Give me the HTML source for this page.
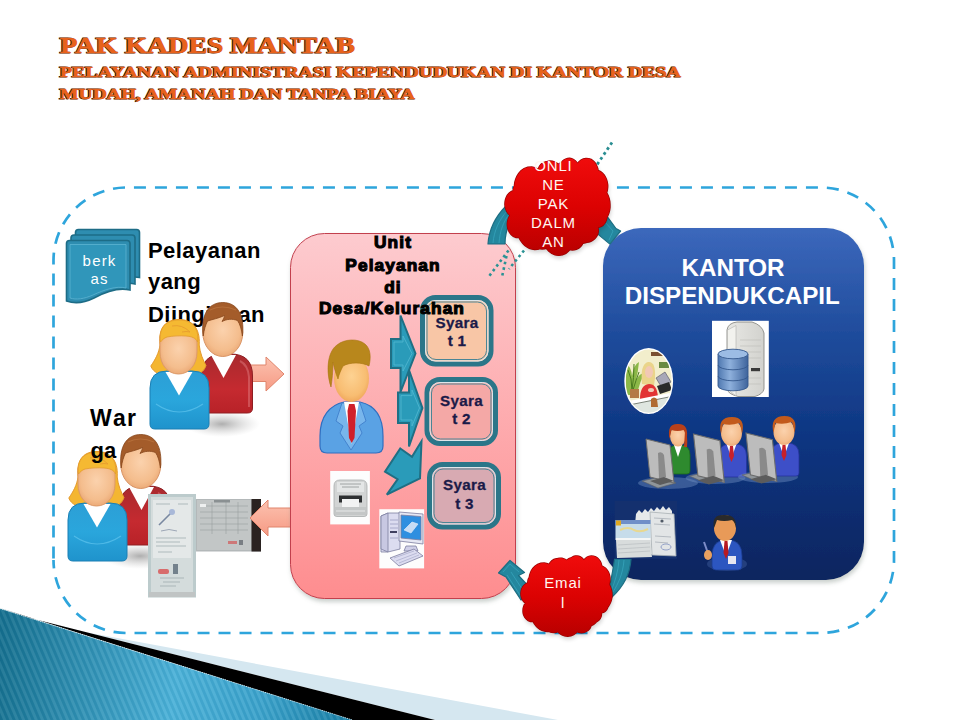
<!DOCTYPE html>
<html><head><meta charset="utf-8">
<style>
html,body{margin:0;padding:0;background:#fff;}
body{width:960px;height:720px;overflow:hidden;position:relative;font-family:"Liberation Sans",sans-serif;}
svg{position:absolute;left:0;top:0;}
</style></head>
<body>
<svg width="960" height="720" viewBox="0 0 960 720">
<defs>
  <linearGradient id="tealG" gradientUnits="userSpaceOnUse" x1="0" y1="650" x2="352" y2="700">
    <stop offset="0" stop-color="#15708f"/>
    <stop offset="0.5" stop-color="#4ab1d8"/>
    <stop offset="0.75" stop-color="#3aa2cb"/>
    <stop offset="1" stop-color="#1a80a6"/>
  </linearGradient>
  <pattern id="stripes" width="5.8" height="6" patternUnits="userSpaceOnUse" patternTransform="rotate(-23)">
    <rect width="2.9" height="6" fill="#ffffff" fill-opacity="0.08"/>
    <rect x="2.9" width="2.9" height="6" fill="#003050" fill-opacity="0.06"/>
  </pattern>
  <linearGradient id="pinkG" x1="0" y1="0" x2="0" y2="1">
    <stop offset="0" stop-color="#fdcbcf"/>
    <stop offset="1" stop-color="#fe8d8f"/>
  </linearGradient>
  <linearGradient id="blueG" x1="0" y1="0" x2="0" y2="1">
    <stop offset="0" stop-color="#3c68bc"/>
    <stop offset="0.3" stop-color="#1f4c9c"/>
    <stop offset="0.6" stop-color="#0d3581"/>
    <stop offset="1" stop-color="#07255f"/>
  </linearGradient>
  <linearGradient id="cloudG1" gradientUnits="userSpaceOnUse" x1="0" y1="158" x2="0" y2="255">
    <stop offset="0" stop-color="#f00c0c"/>
    <stop offset="0.5" stop-color="#dc0202"/>
    <stop offset="1" stop-color="#b80000"/>
  </linearGradient>
  <linearGradient id="cloudG2" gradientUnits="userSpaceOnUse" x1="0" y1="556" x2="0" y2="636">
    <stop offset="0" stop-color="#f00c0c"/>
    <stop offset="0.5" stop-color="#dc0202"/>
    <stop offset="1" stop-color="#b80000"/>
  </linearGradient>
  <filter id="dshadow" x="-10%" y="-10%" width="120%" height="120%"><feGaussianBlur in="SourceAlpha" stdDeviation="2.2"/><feOffset dx="1" dy="3" result="b"/><feFlood flood-color="#6a7a70" flood-opacity="0.35"/><feComposite in2="b" operator="in"/><feMerge><feMergeNode/><feMergeNode in="SourceGraphic"/></feMerge></filter>
  <filter id="blur2" x="-20%" y="-20%" width="140%" height="140%"><feGaussianBlur stdDeviation="2"/></filter>
  <linearGradient id="arrowPink" x1="0" y1="0" x2="0" y2="1">
    <stop offset="0" stop-color="#fcc2b0"/>
    <stop offset="1" stop-color="#f69a84"/>
  </linearGradient>
  <radialGradient id="skinG" cx="0.5" cy="0.45" r="0.6">
    <stop offset="0" stop-color="#fbd2ad"/>
    <stop offset="0.7" stop-color="#f4bd8d"/>
    <stop offset="1" stop-color="#e9a470"/>
  </radialGradient>
  <radialGradient id="skinO" cx="0.5" cy="0.45" r="0.6">
    <stop offset="0" stop-color="#fdd292"/>
    <stop offset="0.7" stop-color="#f8bd72"/>
    <stop offset="1" stop-color="#eea255"/>
  </radialGradient>
  <linearGradient id="wblue" x1="0" y1="0" x2="0" y2="1">
    <stop offset="0" stop-color="#2c9fd6"/>
    <stop offset="0.5" stop-color="#2aa6dc"/>
    <stop offset="1" stop-color="#1f93cc"/>
  </linearGradient>
  <linearGradient id="mred" x1="0" y1="0" x2="0" y2="1">
    <stop offset="0" stop-color="#a82a2e"/>
    <stop offset="0.6" stop-color="#c52a30"/>
    <stop offset="1" stop-color="#b82228"/>
  </linearGradient>
  <radialGradient id="shadowG" cx="0.5" cy="0.5" r="0.5">
    <stop offset="0" stop-color="#9a9a9a" stop-opacity="0.8"/>
    <stop offset="1" stop-color="#c8c8c8" stop-opacity="0"/>
  </radialGradient>
  <g id="couple">
    <ellipse cx="222" cy="424" rx="38" ry="13" fill="url(#shadowG)"/>
    <!-- man -->
    <path d="M201.5,376 q0,-22 22,-22 h7 q22,0 22,22 v32 q0,5 -5,5 h-41 q-5,0 -5,-5 z" fill="url(#mred)" stroke="#8e1e22" stroke-width="1"/>
    <path d="M240,361 q8,4 9,16 v30" fill="none" stroke="#e07a7e" stroke-width="2" opacity="0.5"/>
    <path d="M211,355 h25 l-12.5,23 z" fill="#ffffff"/>
    <ellipse cx="222.8" cy="332.5" rx="20" ry="24" fill="url(#skinG)" stroke="#d99465" stroke-width="1"/>
    <path d="M203.2,336 C200.5,314 209,302.5 222.8,302.5 C236.5,302.5 245,314 242.4,336 C241.5,329 240,324 237.5,320.5 C232,318.5 227,319 222,321.5 C223.5,319 224.5,317 224.5,315.5 C218,318.5 212,319.5 207.5,321 C205.5,325 204,330 203.2,336 Z" fill="#a45c2a" stroke="#86461c" stroke-width="0.8"/>
    <path d="M210,310 q12,-6 26,0" fill="none" stroke="#c07a44" stroke-width="1.2" opacity="0.6"/>
    <!-- woman -->
    <path d="M160,345 C158,326 167,319.5 179,319.5 C191,319.5 200.5,327 199.2,345 C200,353 203,360 206,365.5 C204,372 198,375.5 193,374.5 L166,374.5 C160,375.5 153,372 150.8,366 C155,360 159,353 160,345 Z" fill="#f4b631" stroke="#e59a2e" stroke-width="1"/>
    <path d="M150,388 q0,-17 17,-17 h25 q17,0 17,17 v36 q0,5 -5,5 h-49 q-5,0 -5,-5 z" fill="url(#wblue)" stroke="#1a7fb4" stroke-width="1"/>
    <path d="M156,404 q23,16 47,0" fill="none" stroke="#60c4ee" stroke-width="1.2" opacity="0.7"/>
    <path d="M165.5,372 h27 l-13.5,23.5 z" fill="#ffffff"/>
    <path d="M160,338 C160,331 166,328 178.5,328 C191,328 197,331 197,338 V352 C197,365 189,374 178.5,374 C168,374 160,365 160,352 Z" fill="url(#skinG)" stroke="#dd9a68" stroke-width="1"/>
    <path d="M160.5,342 C158.5,327 167,320 179,320 C191,320 199.5,327 197.5,342 C196,338 192,336.5 186,336 C180,335.5 172,336 167,337 C164,338 162,340 160.5,342 Z" fill="#f5b932" stroke="#e39c2c" stroke-width="0.8"/>
    <path d="M172,326 q10,-2 18,6 q-4,-1 -8,0" fill="none" stroke="#e59a2e" stroke-width="1" opacity="0.8"/>
  </g>
  <g id="pinkArrowR">
    <path d="M0,8 h18 v-8 l18,17 l-18,17 v-8 h-18 z"/>
  </g>
</defs>

<!-- bottom-left decoration -->
<polygon points="85,632 558,720 435,720 30,618" fill="#d5e7f0"/>
<polygon points="30,618 435,720 352,720 0,608" fill="#000"/>
<polygon points="0,608.5 352.5,720 0,720" fill="url(#tealG)"/>
<polygon points="0,608.5 352.5,720 0,720" fill="url(#stripes)"/>
<line x1="0" y1="608.5" x2="352.5" y2="720" stroke="#e8f6fb" stroke-width="0.8" stroke-dasharray="1 1"/>

<!-- dashed container -->
<path d="M53.5,560 A73,73 0 0 0 126.5,633 H821 A73,73 0 0 0 894,560 V260.5 A73,73 0 0 0 821,187.5 H126.5 A73,73 0 0 0 53.5,260.5 Z" fill="none" stroke="#2ea5dc" stroke-width="2.7" stroke-dasharray="12 9" stroke-dashoffset="3.5"/>

<!-- dotted line behind top cloud -->
<line x1="612" y1="142.5" x2="572" y2="201.8" stroke="#2a8e92" stroke-width="2.8" stroke-dasharray="2.8 3.1"/>

<!-- Title -->
<g font-family="Liberation Serif" font-weight="bold">
  <g fill="#3a1a05" stroke="#3a1a05" stroke-width="1" transform="translate(-0.9,0.2)">
    <text x="60" y="52.6" font-size="23" textLength="295" lengthAdjust="spacingAndGlyphs">PAK KADES MANTAB</text>
    <text x="60" y="76.5" font-size="14.5" textLength="621" lengthAdjust="spacingAndGlyphs">PELAYANAN ADMINISTRASI KEPENDUDUKAN DI KANTOR DESA</text>
    <text x="60" y="98.7" font-size="14.5" textLength="355" lengthAdjust="spacingAndGlyphs">MUDAH, AMANAH DAN TANPA BIAYA</text>
  </g>
  <g fill="#e8621c" stroke="#e8621c" stroke-width="0.7">
    <text x="60" y="52.6" font-size="23" textLength="295" lengthAdjust="spacingAndGlyphs">PAK KADES MANTAB</text>
    <text x="60" y="76.5" font-size="14.5" textLength="621" lengthAdjust="spacingAndGlyphs">PELAYANAN ADMINISTRASI KEPENDUDUKAN DI KANTOR DESA</text>
    <text x="60" y="98.7" font-size="14.5" textLength="355" lengthAdjust="spacingAndGlyphs">MUDAH, AMANAH DAN TANPA BIAYA</text>
  </g>
</g>

<!-- berkas icon -->
<g stroke="#1d6c86" stroke-width="1.6" fill="#2e8db0">
  <path d="M75.5,232.5 q0,-3 3,-3 h58 q3,0 3,3 v45 C132,276 125,278 118,281 L75.5,281 Z"/>
  <path d="M71,238 q0,-3 3,-3 h58 q3,0 3,3 v46 C127,282 120,284 113,287 L71,287 Z"/>
  <path d="M66.5,243.5 q0,-3 3,-3 h57.5 q3,0 3,3 v46.5 C118,287 105,292 94,298 C84,303 75,304 66.5,301 Z"/>
</g>
<path d="M70,244.5 h56 v43.5 C116,285.5 104,290 93,295 C84,299 76,300 70,298 Z" fill="#3096ba" stroke="#5db4d2" stroke-width="0.8"/>
<g font-family="Liberation Sans" font-size="15" fill="#ffffff" text-anchor="middle" letter-spacing="1.2">
  <text x="99.6" y="265.6">berk</text>
  <text x="99.6" y="284.4">as</text>
</g>

<!-- Pelayanan yang Diinginkan -->
<g font-family="Liberation Sans" font-weight="bold" font-size="22" fill="#000">
  <text x="148" y="258.4" letter-spacing="0.45">Pelayanan</text>
  <text x="148" y="289.3" letter-spacing="0.45">yang</text>
  <text x="148" y="321.7" letter-spacing="0.45">Diinginkan</text>
</g>

<!-- pink arrow right -->
<path d="M248,365 h18 v-8 l18,17 l-18,17 v-9.5 h-18 z" fill="url(#arrowPink)" stroke="#e0856c" stroke-width="1"/>
<!-- couple 1 -->
<use href="#couple"/>

<!-- couple 2 -->
<use href="#couple" transform="translate(-82,132)"/>
<g font-family="Liberation Sans" font-weight="bold" font-size="22" fill="#000">
  <text x="90" y="425.7" font-size="23">W<tspan dx="2.2">a</tspan><tspan dx="1.2">r</tspan></text>
  <text x="90.5" y="457.5">ga</text>
</g>

<!-- documents -->
<rect x="148" y="494" width="48" height="103.5" fill="#bccbcc"/>
<rect x="151" y="497" width="42" height="97" fill="#d4dcdc"/>
<rect x="153" y="500" width="38" height="58" fill="#e4e8e8"/>
<g stroke="#9aa6aa" stroke-width="0.7">
  <path d="M156,504 H170 M178,504 H188 M156,538 H186 M156,542 H180 M156,546 H186 M158,552 H172 M160,578 H184 M163,582 H180 M160,586 H176"/>
</g>
<path d="M159,525 l12,-12" stroke="#7888a0" stroke-width="1.6"/>
<circle cx="172" cy="512" r="3" fill="#a8b8d8"/>
<path d="M161,531 q8,-3 16,0" stroke="#8a96a8" stroke-width="0.8" fill="none"/>
<rect x="158" y="569" width="11" height="5" rx="2" fill="#d85050" opacity="0.8"/>
<rect x="173" y="564" width="5" height="10" fill="#4a5a6a" opacity="0.7"/>
<rect x="149" y="592" width="46" height="5" fill="#c0c4c4"/>
<rect x="196" y="499" width="65" height="52.5" fill="#b3b8b9"/>
<rect x="197" y="500" width="54" height="50" fill="#c2c6c6"/>
<g stroke="#989ea0" stroke-width="0.6">
  <path d="M200,506 H248 M200,512 H248 M200,518 H248 M200,524 H248 M200,530 H248 M212,502 V534 M226,502 V534 M238,502 V534"/>
</g>
<rect x="214" y="500" width="16" height="2.5" fill="#8a9092"/>
<rect x="200" y="504" width="6" height="3" fill="#eef0f0"/>
<rect x="228" y="541" width="9" height="3" fill="#d06464" opacity="0.8"/>
<rect x="239" y="540" width="4" height="5" fill="#5a6066" opacity="0.7"/>
<rect x="251.5" y="499" width="9.5" height="52.5" fill="#2a2220"/>
<!-- pink arrow left -->
<path d="M291,508 h-23 v-8 l-18,18 l18,18 v-9 h23 z" fill="url(#arrowPink)" stroke="#e0856c" stroke-width="1"/>

<!-- PINK BOX -->
<rect x="290.5" y="233.5" width="225" height="365" rx="34" ry="34" fill="url(#pinkG)" stroke="#c2404e" stroke-width="1" filter="url(#dshadow)"/>

<!-- teal chevron arrows -->
<g fill="#2a9bb9" stroke="#1f6f84" stroke-width="2" stroke-linejoin="miter">
  <path d="M391,339 H400.5 V315.5 L415.5,353.5 L400.5,392 V368 H391 Z"/>
  <path d="M398,392.6 H409 V370 L422.4,408 L409,446.5 V423 H398 Z"/>
  <path d="M400.3,448.5 L412,456.7 L421.5,441.3 L420,478.3 L386.8,494.6 L397.6,479.2 L385,471.6 Z"/>
</g>
<g fill="none" stroke="#5ec0d8" stroke-width="0.8" opacity="0.8">
  <path d="M394,342 H403 V336 L412,353.5 L403,371 V365 H394 Z"/>
  <path d="M401,395.6 H412 V390 L419.5,408 L412,426 V420 H401 Z"/>
</g>

<!-- Syarat boxes -->
<g stroke="#2b7689" stroke-width="5">
  <rect x="422.5" y="297.5" width="68.5" height="66.5" rx="13" fill="#f8c6a6"/>
  <rect x="427" y="379.5" width="68.5" height="64" rx="13" fill="#f4a8a6"/>
  <rect x="429.5" y="464.5" width="69" height="62.5" rx="13" fill="#d8aab2"/>
</g>
<g fill="none" stroke="#dfe6ea" stroke-width="1">
  <rect x="425.5" y="300.5" width="62.5" height="60.5" rx="10"/>
  <rect x="430" y="382.5" width="62.5" height="58" rx="10"/>
  <rect x="432.5" y="467.5" width="63" height="56.5" rx="10"/>
</g>
<g fill="none" stroke="#4a8595" stroke-width="1">
  <rect x="427" y="302" width="59.5" height="57.5" rx="9"/>
  <rect x="431.5" y="384" width="59.5" height="55" rx="9"/>
  <rect x="434" y="469" width="60" height="53.5" rx="9"/>
</g>
<g font-family="Liberation Sans" font-weight="bold" font-size="15.2" fill="#1b1a48" stroke="#1b1a48" stroke-width="0.3" text-anchor="middle" letter-spacing="0.3">
  <text x="457" y="327.5">Syara</text><text x="457" y="346">t 1</text>
  <text x="461.5" y="405.5">Syara</text><text x="461.5" y="424.4">t 2</text>
  <text x="464.5" y="490.3">Syara</text><text x="464.5" y="509.3">t 3</text>
</g>

<!-- Unit Pelayanan text -->
<g font-family="Liberation Sans" font-weight="bold" font-size="17.3" fill="#000" stroke="#000" stroke-width="1.15" text-anchor="middle" letter-spacing="1.1">
  <text x="393" y="247.5">Unit</text>
  <text x="393" y="270.8">Pelayanan</text>
  <text x="393" y="292.5">di</text>
  <text x="392" y="314.2">Desa/Kelurahan</text>
</g>

<!-- man in suit -->
<g>
  <path d="M320,436 C320,416 330,405 344,402 H360 C374,405 383,416 383,436 V446 Q383,453 376,453 H327 Q320,453 320,446 Z" fill="#5aa2e4" stroke="#2f6fc0" stroke-width="1.2"/>
  <path d="M342,403 L336,421 L343,426 L340,433 L351,450 L362,433 L359,426 L366,421 L360,403 Z" fill="#78b6ec" stroke="#3f7fcc" stroke-width="0.9"/>
  <path d="M344,402 H359 L351.5,444 Z" fill="#ffffff"/>
  <path d="M349,404 H354.5 L356,411 L354.5,438 L351.7,443 L349,438 L347.5,411 Z" fill="#d0202a"/>
  <ellipse cx="351.5" cy="378.5" rx="17.5" ry="23.5" fill="url(#skinO)"/>
  <path d="M331,387 C326,372 327,352 337,345 C344,339 358,338 365,344 C371,349 371,358 369,366 C362,362 350,362 343,366 C341,370 339,374 338,379 C336,374 334,368 333,362 C333,372 332,380 331,387 Z" fill="#b8871c" stroke="#a87610" stroke-width="0.6"/>
</g>

<!-- printer image -->
<rect x="330.2" y="471" width="39.7" height="53.4" fill="#fdfdfd"/>
<g>
  <path d="M334,486 Q334,480 340,480 H361 Q367,480 367,486 V514 Q367,516.5 364,516.5 H337 Q334,516.5 334,514 Z" fill="#d2d4d4" stroke="#a8acac" stroke-width="0.8"/>
  <path d="M337,482 H364 V492 H337 Z" fill="#e4e6e6"/>
  <path d="M340,484 H361 M342,487 H359" stroke="#8e9292" stroke-width="0.8"/>
  <rect x="339" y="495.5" width="23" height="7" fill="#2e3032"/>
  <rect x="342" y="499" width="17" height="8" fill="#f2f3f3"/>
  <rect x="335" y="507" width="31" height="8" fill="#c4c7c7"/>
  <path d="M336,511 H365" stroke="#e8eaea" stroke-width="1"/>
</g>
<!-- computer image -->
<rect x="379.3" y="509.2" width="44.8" height="59.2" fill="#fdfdfd"/>
<g stroke="#7c7ea0" stroke-width="0.8">
  <path d="M381,516 L388,513 H400 V549 L388,552 H381 Z" fill="#dcdcf0"/>
  <path d="M381,516 L388,513 V552 L381,549 Z" fill="#c8c8e2"/>
  <path d="M390,520 H398 M390,524 H398 M390,528 H398 M390,538 H398" stroke="#9a9cc0"/>
  <rect x="390" y="531" width="7" height="2" fill="#404060" stroke="none"/>
  <path d="M399,512 L423,514 V544 L399,541 Z" fill="#e6e8f4"/>
  <path d="M401,515 L421,516.5 V540 L401,538 Z" fill="#2f8fe0"/>
  <path d="M404,530 L412,522 L418,524 L411,533 Z" fill="#c8dcf4" stroke="#e8f0fa" stroke-width="0.6"/>
  <path d="M406,546 L416,546 L418,551 L404,551 Z" fill="#d0d0e8"/>
  <path d="M390,558 L414,549 L423,556 L399,566 Z" fill="#dcdcf0"/>
  <path d="M394,558 L414,551 M396,561 L417,553 M399,563 L419,555" stroke="#a0a2c4" stroke-width="0.6"/>
</g>

<!-- BLUE BOX -->
<rect x="603" y="228" width="261" height="352" rx="38" ry="38" fill="url(#blueG)" filter="url(#dshadow)"/>
<!-- teal curved arrows -->
<g fill="#24879e" stroke="#1c6d82" stroke-width="1.2" stroke-linejoin="round">
  <path d="M488,244 C489,230 495,217 506,206 L514,214 C509,222 505,232 505,244 Z"/>
  <path d="M607.8,217.4 L616,228.5 L620.6,231 L609.9,244.1 L596,232.6 L600,222 Z"/>
  <path d="M614.6,559 L631,559 C630,575 622,588 612,597 L609,590 C611,580 613,570 614.6,559 Z"/>
  <path d="M498.5,573 L510,560.5 L524.5,572.5 L518.5,575.5 L533,591 L521,600 L506,577 Z"/>
</g>
<g fill="none" stroke="#3fb0c8" stroke-width="0.8" opacity="0.7">
  <path d="M493,243 C494,231 499,220 507,211"/>
  <path d="M499,243 C500,231 503,222 510,213"/>
  <path d="M605,222 L613,231 L609,240"/>
  <path d="M619,560 C618,572 615,582 611,591"/>
  <path d="M624,560 C623,574 618,584 613,592"/>
  <path d="M503,572 L510,564 L519,572 M511,572 L524,592 M507,575 L520,595"/>
</g>
<g font-family="Liberation Sans" font-weight="bold" font-size="24.2" fill="#ffffff" text-anchor="middle">
  <text x="733" y="276.3">KANTOR</text>
  <text x="732.3" y="304.3">DISPENDUKCAPIL</text>
</g>

<!-- server image -->
<rect x="712" y="320.8" width="56.8" height="76.2" fill="#ffffff"/>
<defs>
  <linearGradient id="cylG" x1="0" y1="0" x2="1" y2="0">
    <stop offset="0" stop-color="#4f78b0"/>
    <stop offset="0.4" stop-color="#8eb0dc"/>
    <stop offset="1" stop-color="#3e649c"/>
  </linearGradient>
  <linearGradient id="towG" x1="0" y1="0" x2="1" y2="0">
    <stop offset="0" stop-color="#e8e8e4"/>
    <stop offset="1" stop-color="#d2d2ce"/>
  </linearGradient>
</defs>
<path d="M727,330 Q728,323 737,322 L752,322 Q762,325 764,333 V389 Q763,394 755,396.5 L738,396.5 Q728,394 727,389 Z" fill="url(#towG)" stroke="#8a8a86" stroke-width="0.9"/>
<path d="M727.5,330 L736,325.5 V396 L727.5,389 Z" fill="#f2f2ee" stroke="#b0b0ac" stroke-width="0.6"/>
<g stroke="#c0c0bc" stroke-width="0.7">
  <path d="M740,340 H761 M740,346 H761 M740,352 H761 M740,358 H761 M740,378 H761 M740,384 H761"/>
</g>
<rect x="751" y="368" width="9" height="3.2" fill="#3a3a3a"/>
<g stroke="#34588c" stroke-width="0.9">
  <path d="M718,354 V386 A15,4.8 0 0 0 748,386 V354" fill="url(#cylG)"/>
  <ellipse cx="733" cy="354" rx="15" ry="4.8" fill="#9cbce4"/>
  <path d="M718,365 A15,4.8 0 0 0 748,365 M718,376 A15,4.8 0 0 0 748,376" fill="none"/>
</g>

<!-- woman at desk oval -->
<clipPath id="ovalClip"><ellipse cx="648.7" cy="381" rx="23" ry="31.6"/></clipPath>
<ellipse cx="648.7" cy="381" rx="24.4" ry="33" fill="#ffffff"/>
<g clip-path="url(#ovalClip)">
  <rect x="624" y="348" width="50" height="66" fill="#f2eecc"/>
  <rect x="651" y="352" width="14" height="4" fill="#7a5030"/>
  <rect x="659" y="362" width="10" height="6" fill="#6a8a40"/>
  <path d="M626,364 q5,2 6,12 q2,-12 7,-14 q-1,10 -3,18 q5,-8 8,-6 q-4,8 -6,16 l-4,5 h-8 z" fill="#8cb848"/>
  <path d="M628,370 q4,8 4,20 M634,364 q0,14 -2,26 M639,372 q-3,8 -6,18" stroke="#4a7a20" stroke-width="1" fill="none"/>
  <path d="M630,389 h9 v9 h-9 z" fill="#b47a44"/>
  <path d="M642,384 q-2,-20 6,-22 q8,-1 7,16 l-1,8 z" fill="#ead48a"/>
  <ellipse cx="649" cy="372" rx="4" ry="6" fill="#f2c8b4"/>
  <path d="M640,399 q0,-14 9,-15 q8,0 9,13 l1,4 h-19 z" fill="#e23434"/>
  <ellipse cx="651" cy="390" rx="3" ry="2" fill="#f2c8b4"/>
  <path d="M656,378 l9,-6 l6,10 l-9,6 z" fill="#a8a8b8" stroke="#505060" stroke-width="0.6"/>
  <path d="M657,386 l12,-4 l3,8 l-12,4 z" fill="#2a2a2a"/>
  <path d="M624,402 l50,-10 v4 l-50,10 z" fill="#ffffff"/>
  <path d="M624,406 l50,-10 v20 h-50 z" fill="#dfe6e0"/>
  <path d="M624,406 l50,-10" stroke="#606860" stroke-width="0.8"/>
  <path d="M651,399 q3,-3 6,0 l1,8 h-7 z" fill="#b06a30"/>
</g>

<!-- people at computers -->
<defs>
  <g id="pcbase">
    <ellipse cx="22" cy="44" rx="30" ry="6" fill="#6f8fc0" opacity="0.45"/>
    <path d="M-4,42 l18,-4 l16,6 l-18,5 z" fill="#8f9599" stroke="#5a6066" stroke-width="0.6"/>
  </g>
  <g id="monitor">
    <path d="M0,0 l24,6 l4,38 l-24,-6 z" fill="#bcbcbc" stroke="#6c6c6c" stroke-width="1"/>
    <path d="M12,14 q4,-2 6,2 l2,22 l-7,2 z" fill="#8a8a8a"/>
    <path d="M4,42 l14,-4 l10,4 l-14,4 z" fill="#5c5c5c"/>
  </g>
</defs>
<g transform="translate(646,439)">
  <use href="#pcbase"/>
  <path d="M22,16 q0,-10 10,-10 h2 q10,0 10,10 v16 q0,3 -3,3 h-16 q-3,0 -3,-3 z" fill="#2e8a2e" stroke="#1d6a1d" stroke-width="0.8"/>
  <path d="M28,6 h8 l-4,12 z" fill="#ffffff"/>
  <ellipse cx="32" cy="-3" rx="8" ry="10.5" fill="url(#skinG)"/>
  <path d="M23.5,0 q-3,-16 9,-15 q11,0 8,16 q-1,-8 -3,-10 q-6,2 -12,0 q-1,4 -2,9 z" fill="#b8401a"/>
  <path d="M39,-8 q3,4 2,16 h-3 z" fill="#b8401a"/>
  <use href="#monitor"/>
</g>
<g transform="translate(693.5,434)">
  <use href="#pcbase"/>
  <path d="M25,22 q0,-12 12,-12 h4 q12,0 12,12 v18 q0,3 -3,3 h-22 q-3,0 -3,-3 z" fill="#3d4fc8" stroke="#26339a" stroke-width="0.8"/>
  <path d="M33,10 h10 l-5,14 z" fill="#ffffff"/>
  <path d="M36.5,12 h3 l1,10 l-2.5,6 l-2.5,-6 z" fill="#c8202a"/>
  <ellipse cx="38" cy="-1" rx="10.5" ry="13" fill="url(#skinG)"/>
  <path d="M27.5,0 q-4,-17 11,-17 q14,0 10,17 q-1,-8 -3,-11 q-8,3 -16,1 q-1,4 -2,10 z" fill="#c25a1c"/>
  <use href="#monitor" transform="scale(1.1)"/>
</g>
<g transform="translate(746,433)">
  <use href="#pcbase"/>
  <path d="M25,22 q0,-12 12,-12 h4 q12,0 12,12 v18 q0,3 -3,3 h-22 q-3,0 -3,-3 z" fill="#3d4fc8" stroke="#26339a" stroke-width="0.8"/>
  <path d="M33,10 h10 l-5,14 z" fill="#ffffff"/>
  <path d="M36.5,12 h3 l1,10 l-2.5,6 l-2.5,-6 z" fill="#c8202a"/>
  <ellipse cx="38" cy="-1" rx="10.5" ry="13" fill="url(#skinG)"/>
  <path d="M27.5,0 q-4,-17 11,-17 q14,0 10,17 q-1,-8 -3,-11 q-8,3 -16,1 q-1,4 -2,10 z" fill="#c25a1c"/>
  <use href="#monitor" transform="scale(1.1)"/>
</g>

<!-- documents image (blue box) -->
<rect x="614.7" y="501" width="62.3" height="57.8" fill="#14306e"/>
<g>
  <path d="M636,514 l3,-4 l3,3 l3,-4 l3,3 l3,-4 l3,3 l3,-4 l3,3 l3,-4 l3,4 l3,-3 l3,4 v42 l-40,2 z" fill="#e6e9ea"/>
  <path d="M650,512 L674,514 L676,556 L652,555 Z" fill="#e2e5e6" stroke="#a8b0b4" stroke-width="0.8"/>
  <path d="M654,518 L671,519 M654,524 L670,525 M655,536 L671,537 M655,542 L668,543" stroke="#a0a8b0" stroke-width="0.7"/>
  <circle cx="662" cy="521" r="1.6" fill="#505a66"/>
  <ellipse cx="666" cy="547" rx="5" ry="3" fill="none" stroke="#8090c0" stroke-width="0.8"/>
  <path d="M616,540 L650,538 L652,557 L617,558 Z" fill="#d8dcdc"/>
  <path d="M618,545 L650,543 M618,549 L650,547 M618,553 L650,551" stroke="#bcc2c4" stroke-width="0.8"/>
  <rect x="615.5" y="520" width="35" height="18" fill="#c6dcea"/>
  <rect x="615.5" y="520" width="35" height="4" fill="#6f8fc8"/>
  <rect x="616" y="520.5" width="5" height="5" fill="#e0a820"/>
  <path d="M620,530 q8,-4 14,0 q6,3 14,-1" stroke="#e8d890" stroke-width="2" fill="none"/>
  <rect x="615.5" y="538" width="35" height="2" fill="#f4f6f6"/>
</g>

<!-- man with pen -->
<g>
  <ellipse cx="727" cy="564" rx="20" ry="7" fill="#4f6fb0" opacity="0.35"/>
  <path d="M712,556 q0,-16 14,-16 h2 q14,0 14,16 v10 q0,4 -4,4 h-22 q-4,0 -4,-4 z" fill="#2c56c0" stroke="#1c3c90" stroke-width="0.8"/>
  <path d="M720,540 h12 l-6,16 z" fill="#ffffff"/>
  <path d="M724.5,541 h3 l1,12 l-2.5,6 l-2.5,-6 z" fill="#b81a22"/>
  <rect x="728" y="556" width="8" height="8" fill="#e6e6f0"/>
  <ellipse cx="725" cy="528" rx="11" ry="13" fill="#e89a58"/>
  <path d="M714,528 q-3,-14 11,-13 q12,0 11,13 q-1,-6 -4,-8 q-8,2 -15,0 q-1,3 -3,8 z" fill="#2a2a2a"/>
  <path d="M704,542 l5,14" stroke="#7c8cc8" stroke-width="2"/>
  <ellipse cx="708" cy="555" rx="4" ry="5" fill="#e8a060"/>
</g>

<!-- clouds -->
<path d="M514.5,190.3 L514.3,187.5 L514.5,184.8 L514.9,182.0 L515.7,179.2 L516.9,176.4 L518.7,173.5 L521.0,170.8 L524.1,168.6 L527.8,167.2 L531.8,166.9 L535.7,167.8 L539.0,169.7 L539.8,168.0 L540.9,166.4 L542.2,164.8 L543.7,163.4 L545.6,162.2 L547.7,161.4 L550.0,161.0 L552.3,161.2 L554.5,161.8 L556.5,162.9 L558.2,164.2 L559.6,165.7 L560.3,164.2 L561.2,162.7 L562.4,161.3 L563.8,160.0 L565.6,159.1 L567.6,158.4 L569.7,158.3 L571.7,158.7 L573.6,159.6 L575.2,160.7 L576.5,162.1 L577.5,163.6 L579.0,161.7 L581.0,160.1 L583.3,158.9 L586.0,158.4 L588.7,158.6 L591.2,159.5 L593.3,161.0 L595.0,162.8 L596.2,164.8 L597.1,166.7 L597.8,168.6 L598.1,170.5 L600.6,171.7 L602.6,173.3 L604.3,175.2 L605.5,177.2 L606.4,179.2 L607.0,181.2 L607.4,183.1 L607.7,185.0 L607.7,186.9 L607.5,188.8 L607.2,190.8 L606.6,192.7 L608.2,195.7 L609.2,198.7 L609.8,201.7 L610.0,204.6 L610.0,207.5 L609.6,210.4 L608.8,213.3 L607.5,216.4 L605.7,219.4 L603.2,222.2 L599.9,224.5 L595.9,225.8 L595.8,228.0 L595.5,230.2 L594.9,232.4 L594.0,234.6 L592.7,236.9 L591.0,239.1 L588.8,241.0 L586.2,242.5 L583.1,243.3 L580.0,243.2 L577.0,242.3 L574.4,240.7 L573.6,243.3 L572.4,246.0 L570.8,248.6 L568.6,251.1 L565.9,253.3 L562.5,254.8 L558.8,255.4 L555.1,254.9 L551.8,253.4 L548.9,251.3 L546.7,248.8 L545.1,246.2 L542.8,247.6 L540.3,248.7 L537.5,249.4 L534.7,249.5 L531.9,249.1 L529.3,248.3 L526.9,247.0 L524.8,245.4 L522.9,243.6 L521.4,241.6 L520.1,239.7 L519.1,237.6 L516.1,237.5 L513.3,236.4 L511.1,234.6 L509.5,232.5 L508.4,230.3 L507.7,228.2 L507.4,226.0 L507.3,224.0 L507.5,221.9 L508.0,219.7 L508.8,217.5 L510.1,215.4 L508.0,213.3 L506.6,211.1 L505.7,208.8 L505.1,206.6 L504.9,204.4 L505.0,202.2 L505.4,200.0 L506.1,197.8 L507.2,195.5 L509.0,193.3 L511.4,191.5 L514.4,190.6 Z M556.8,165.2 A12.0,12.0 0 0 1 574.9,168.2 A12.7,12.7 0 0 1 591.7,178.7 A10.7,10.7 0 0 1 601.0,192.7 A10.8,10.8 0 0 1 603.7,209.6 A10.6,10.6 0 0 1 597.9,227.5 A11.8,11.8 0 0 1 583.3,241.8 A11.3,11.3 0 0 1 566.2,248.1 A11.9,11.9 0 0 1 547.3,247.6 A10.5,10.5 0 0 1 532.1,241.5 A12.6,12.6 0 0 1 518.2,227.8 A9.1,9.1 0 0 1 512.6,212.3 A10.4,10.4 0 0 1 514.0,195.4 A10.8,10.8 0 0 1 522.8,180.3 A11.4,11.4 0 0 1 538.2,169.3 A10.7,10.7 0 0 1 556.8,165.2 Z" fill="#000" opacity="0.18" transform="translate(1,3)" filter="url(#blur2)"/>
<path d="M529.2,582.3 L529.1,580.1 L529.2,577.8 L529.6,575.5 L530.3,573.2 L531.3,570.8 L532.8,568.5 L534.9,566.2 L537.6,564.4 L540.8,563.2 L544.2,563.0 L547.6,563.7 L550.5,565.3 L551.2,563.9 L552.1,562.6 L553.2,561.3 L554.6,560.1 L556.2,559.1 L558.0,558.4 L560.0,558.1 L562.0,558.2 L563.9,558.8 L565.6,559.6 L567.1,560.7 L568.3,562.0 L568.9,560.7 L569.7,559.5 L570.7,558.3 L572.0,557.3 L573.5,556.5 L575.2,556.0 L577.0,555.9 L578.8,556.2 L580.4,556.9 L581.8,557.9 L583.0,559.0 L583.8,560.2 L585.1,558.7 L586.8,557.3 L588.9,556.3 L591.2,555.9 L593.5,556.1 L595.7,556.9 L597.5,558.1 L599.0,559.6 L600.1,561.2 L600.9,562.8 L601.4,564.4 L601.7,566.0 L603.8,567.0 L605.6,568.3 L607.0,569.9 L608.1,571.5 L608.9,573.2 L609.4,574.8 L609.8,576.4 L610.0,578.0 L610.0,579.6 L609.9,581.1 L609.6,582.7 L609.1,584.4 L610.4,586.9 L611.3,589.4 L611.8,591.8 L612.0,594.2 L612.0,596.6 L611.6,599.0 L610.9,601.5 L609.8,604.0 L608.3,606.5 L606.1,608.8 L603.2,610.7 L599.8,611.8 L599.7,613.6 L599.4,615.4 L598.9,617.2 L598.1,619.1 L597.0,621.0 L595.6,622.8 L593.7,624.4 L591.3,625.6 L588.7,626.3 L586.0,626.2 L583.4,625.4 L581.2,624.1 L580.5,626.3 L579.5,628.5 L578.0,630.7 L576.2,632.8 L573.7,634.6 L570.9,635.8 L567.7,636.3 L564.5,635.9 L561.5,634.7 L559.1,632.9 L557.2,630.9 L555.7,628.7 L553.8,629.9 L551.6,630.8 L549.2,631.4 L546.8,631.5 L544.4,631.1 L542.1,630.4 L540.0,629.4 L538.1,628.0 L536.5,626.5 L535.2,624.9 L534.1,623.3 L533.2,621.6 L530.6,621.5 L528.2,620.6 L526.3,619.1 L524.9,617.4 L523.9,615.5 L523.3,613.8 L523.0,612.0 L523.0,610.3 L523.1,608.5 L523.6,606.8 L524.3,604.9 L525.5,603.1 L523.6,601.5 L522.4,599.6 L521.6,597.7 L521.1,595.9 L520.9,594.1 L521.0,592.3 L521.3,590.4 L521.9,588.6 L522.9,586.7 L524.4,584.9 L526.5,583.4 L529.1,582.6 Z M565.8,561.4 A9.0,9.0 0 0 1 581.5,563.9 A11.0,11.0 0 0 1 596.7,573.3 A8.5,8.5 0 0 1 604.0,583.9 A9.7,9.7 0 0 1 606.3,599.7 A8.2,8.2 0 0 1 601.5,612.9 A9.4,9.4 0 0 1 591.5,623.0 A9.8,9.8 0 0 1 574.8,629.8 A9.5,9.5 0 0 1 560.0,630.1 A10.3,10.3 0 0 1 543.2,624.1 A7.9,7.9 0 0 1 532.7,614.6 A8.2,8.2 0 0 1 526.9,601.0 A9.0,9.0 0 0 1 528.3,585.6 A10.5,10.5 0 0 1 537.6,572.0 A7.4,7.4 0 0 1 548.8,565.0 A10.6,10.6 0 0 1 565.8,561.4 Z" fill="#000" opacity="0.18" transform="translate(1,3)" filter="url(#blur2)"/>
<path d="M514.5,190.3 L514.3,187.5 L514.5,184.8 L514.9,182.0 L515.7,179.2 L516.9,176.4 L518.7,173.5 L521.0,170.8 L524.1,168.6 L527.8,167.2 L531.8,166.9 L535.7,167.8 L539.0,169.7 L539.8,168.0 L540.9,166.4 L542.2,164.8 L543.7,163.4 L545.6,162.2 L547.7,161.4 L550.0,161.0 L552.3,161.2 L554.5,161.8 L556.5,162.9 L558.2,164.2 L559.6,165.7 L560.3,164.2 L561.2,162.7 L562.4,161.3 L563.8,160.0 L565.6,159.1 L567.6,158.4 L569.7,158.3 L571.7,158.7 L573.6,159.6 L575.2,160.7 L576.5,162.1 L577.5,163.6 L579.0,161.7 L581.0,160.1 L583.3,158.9 L586.0,158.4 L588.7,158.6 L591.2,159.5 L593.3,161.0 L595.0,162.8 L596.2,164.8 L597.1,166.7 L597.8,168.6 L598.1,170.5 L600.6,171.7 L602.6,173.3 L604.3,175.2 L605.5,177.2 L606.4,179.2 L607.0,181.2 L607.4,183.1 L607.7,185.0 L607.7,186.9 L607.5,188.8 L607.2,190.8 L606.6,192.7 L608.2,195.7 L609.2,198.7 L609.8,201.7 L610.0,204.6 L610.0,207.5 L609.6,210.4 L608.8,213.3 L607.5,216.4 L605.7,219.4 L603.2,222.2 L599.9,224.5 L595.9,225.8 L595.8,228.0 L595.5,230.2 L594.9,232.4 L594.0,234.6 L592.7,236.9 L591.0,239.1 L588.8,241.0 L586.2,242.5 L583.1,243.3 L580.0,243.2 L577.0,242.3 L574.4,240.7 L573.6,243.3 L572.4,246.0 L570.8,248.6 L568.6,251.1 L565.9,253.3 L562.5,254.8 L558.8,255.4 L555.1,254.9 L551.8,253.4 L548.9,251.3 L546.7,248.8 L545.1,246.2 L542.8,247.6 L540.3,248.7 L537.5,249.4 L534.7,249.5 L531.9,249.1 L529.3,248.3 L526.9,247.0 L524.8,245.4 L522.9,243.6 L521.4,241.6 L520.1,239.7 L519.1,237.6 L516.1,237.5 L513.3,236.4 L511.1,234.6 L509.5,232.5 L508.4,230.3 L507.7,228.2 L507.4,226.0 L507.3,224.0 L507.5,221.9 L508.0,219.7 L508.8,217.5 L510.1,215.4 L508.0,213.3 L506.6,211.1 L505.7,208.8 L505.1,206.6 L504.9,204.4 L505.0,202.2 L505.4,200.0 L506.1,197.8 L507.2,195.5 L509.0,193.3 L511.4,191.5 L514.4,190.6 Z M556.8,165.2 A12.0,12.0 0 0 1 574.9,168.2 A12.7,12.7 0 0 1 591.7,178.7 A10.7,10.7 0 0 1 601.0,192.7 A10.8,10.8 0 0 1 603.7,209.6 A10.6,10.6 0 0 1 597.9,227.5 A11.8,11.8 0 0 1 583.3,241.8 A11.3,11.3 0 0 1 566.2,248.1 A11.9,11.9 0 0 1 547.3,247.6 A10.5,10.5 0 0 1 532.1,241.5 A12.6,12.6 0 0 1 518.2,227.8 A9.1,9.1 0 0 1 512.6,212.3 A10.4,10.4 0 0 1 514.0,195.4 A10.8,10.8 0 0 1 522.8,180.3 A11.4,11.4 0 0 1 538.2,169.3 A10.7,10.7 0 0 1 556.8,165.2 Z" fill="url(#cloudG1)" stroke="#9a0000" stroke-width="1.4"/>
<path d="M514.5,190.3 L514.3,187.5 L514.5,184.8 L514.9,182.0 L515.7,179.2 L516.9,176.4 L518.7,173.5 L521.0,170.8 L524.1,168.6 L527.8,167.2 L531.8,166.9 L535.7,167.8 L539.0,169.7 L539.8,168.0 L540.9,166.4 L542.2,164.8 L543.7,163.4 L545.6,162.2 L547.7,161.4 L550.0,161.0 L552.3,161.2 L554.5,161.8 L556.5,162.9 L558.2,164.2 L559.6,165.7 L560.3,164.2 L561.2,162.7 L562.4,161.3 L563.8,160.0 L565.6,159.1 L567.6,158.4 L569.7,158.3 L571.7,158.7 L573.6,159.6 L575.2,160.7 L576.5,162.1 L577.5,163.6 L579.0,161.7 L581.0,160.1 L583.3,158.9 L586.0,158.4 L588.7,158.6 L591.2,159.5 L593.3,161.0 L595.0,162.8 L596.2,164.8 L597.1,166.7 L597.8,168.6 L598.1,170.5 L600.6,171.7 L602.6,173.3 L604.3,175.2 L605.5,177.2 L606.4,179.2 L607.0,181.2 L607.4,183.1 L607.7,185.0 L607.7,186.9 L607.5,188.8 L607.2,190.8 L606.6,192.7 L608.2,195.7 L609.2,198.7 L609.8,201.7 L610.0,204.6 L610.0,207.5 L609.6,210.4 L608.8,213.3 L607.5,216.4 L605.7,219.4 L603.2,222.2 L599.9,224.5 L595.9,225.8 L595.8,228.0 L595.5,230.2 L594.9,232.4 L594.0,234.6 L592.7,236.9 L591.0,239.1 L588.8,241.0 L586.2,242.5 L583.1,243.3 L580.0,243.2 L577.0,242.3 L574.4,240.7 L573.6,243.3 L572.4,246.0 L570.8,248.6 L568.6,251.1 L565.9,253.3 L562.5,254.8 L558.8,255.4 L555.1,254.9 L551.8,253.4 L548.9,251.3 L546.7,248.8 L545.1,246.2 L542.8,247.6 L540.3,248.7 L537.5,249.4 L534.7,249.5 L531.9,249.1 L529.3,248.3 L526.9,247.0 L524.8,245.4 L522.9,243.6 L521.4,241.6 L520.1,239.7 L519.1,237.6 L516.1,237.5 L513.3,236.4 L511.1,234.6 L509.5,232.5 L508.4,230.3 L507.7,228.2 L507.4,226.0 L507.3,224.0 L507.5,221.9 L508.0,219.7 L508.8,217.5 L510.1,215.4 L508.0,213.3 L506.6,211.1 L505.7,208.8 L505.1,206.6 L504.9,204.4 L505.0,202.2 L505.4,200.0 L506.1,197.8 L507.2,195.5 L509.0,193.3 L511.4,191.5 L514.4,190.6 Z M556.8,165.2 A12.0,12.0 0 0 1 574.9,168.2 A12.7,12.7 0 0 1 591.7,178.7 A10.7,10.7 0 0 1 601.0,192.7 A10.8,10.8 0 0 1 603.7,209.6 A10.6,10.6 0 0 1 597.9,227.5 A11.8,11.8 0 0 1 583.3,241.8 A11.3,11.3 0 0 1 566.2,248.1 A11.9,11.9 0 0 1 547.3,247.6 A10.5,10.5 0 0 1 532.1,241.5 A12.6,12.6 0 0 1 518.2,227.8 A9.1,9.1 0 0 1 512.6,212.3 A10.4,10.4 0 0 1 514.0,195.4 A10.8,10.8 0 0 1 522.8,180.3 A11.4,11.4 0 0 1 538.2,169.3 A10.7,10.7 0 0 1 556.8,165.2 Z" fill="url(#cloudG1)"/>
<path d="M529.2,582.3 L529.1,580.1 L529.2,577.8 L529.6,575.5 L530.3,573.2 L531.3,570.8 L532.8,568.5 L534.9,566.2 L537.6,564.4 L540.8,563.2 L544.2,563.0 L547.6,563.7 L550.5,565.3 L551.2,563.9 L552.1,562.6 L553.2,561.3 L554.6,560.1 L556.2,559.1 L558.0,558.4 L560.0,558.1 L562.0,558.2 L563.9,558.8 L565.6,559.6 L567.1,560.7 L568.3,562.0 L568.9,560.7 L569.7,559.5 L570.7,558.3 L572.0,557.3 L573.5,556.5 L575.2,556.0 L577.0,555.9 L578.8,556.2 L580.4,556.9 L581.8,557.9 L583.0,559.0 L583.8,560.2 L585.1,558.7 L586.8,557.3 L588.9,556.3 L591.2,555.9 L593.5,556.1 L595.7,556.9 L597.5,558.1 L599.0,559.6 L600.1,561.2 L600.9,562.8 L601.4,564.4 L601.7,566.0 L603.8,567.0 L605.6,568.3 L607.0,569.9 L608.1,571.5 L608.9,573.2 L609.4,574.8 L609.8,576.4 L610.0,578.0 L610.0,579.6 L609.9,581.1 L609.6,582.7 L609.1,584.4 L610.4,586.9 L611.3,589.4 L611.8,591.8 L612.0,594.2 L612.0,596.6 L611.6,599.0 L610.9,601.5 L609.8,604.0 L608.3,606.5 L606.1,608.8 L603.2,610.7 L599.8,611.8 L599.7,613.6 L599.4,615.4 L598.9,617.2 L598.1,619.1 L597.0,621.0 L595.6,622.8 L593.7,624.4 L591.3,625.6 L588.7,626.3 L586.0,626.2 L583.4,625.4 L581.2,624.1 L580.5,626.3 L579.5,628.5 L578.0,630.7 L576.2,632.8 L573.7,634.6 L570.9,635.8 L567.7,636.3 L564.5,635.9 L561.5,634.7 L559.1,632.9 L557.2,630.9 L555.7,628.7 L553.8,629.9 L551.6,630.8 L549.2,631.4 L546.8,631.5 L544.4,631.1 L542.1,630.4 L540.0,629.4 L538.1,628.0 L536.5,626.5 L535.2,624.9 L534.1,623.3 L533.2,621.6 L530.6,621.5 L528.2,620.6 L526.3,619.1 L524.9,617.4 L523.9,615.5 L523.3,613.8 L523.0,612.0 L523.0,610.3 L523.1,608.5 L523.6,606.8 L524.3,604.9 L525.5,603.1 L523.6,601.5 L522.4,599.6 L521.6,597.7 L521.1,595.9 L520.9,594.1 L521.0,592.3 L521.3,590.4 L521.9,588.6 L522.9,586.7 L524.4,584.9 L526.5,583.4 L529.1,582.6 Z M565.8,561.4 A9.0,9.0 0 0 1 581.5,563.9 A11.0,11.0 0 0 1 596.7,573.3 A8.5,8.5 0 0 1 604.0,583.9 A9.7,9.7 0 0 1 606.3,599.7 A8.2,8.2 0 0 1 601.5,612.9 A9.4,9.4 0 0 1 591.5,623.0 A9.8,9.8 0 0 1 574.8,629.8 A9.5,9.5 0 0 1 560.0,630.1 A10.3,10.3 0 0 1 543.2,624.1 A7.9,7.9 0 0 1 532.7,614.6 A8.2,8.2 0 0 1 526.9,601.0 A9.0,9.0 0 0 1 528.3,585.6 A10.5,10.5 0 0 1 537.6,572.0 A7.4,7.4 0 0 1 548.8,565.0 A10.6,10.6 0 0 1 565.8,561.4 Z" fill="url(#cloudG2)" stroke="#9a0000" stroke-width="1.4"/>
<path d="M529.2,582.3 L529.1,580.1 L529.2,577.8 L529.6,575.5 L530.3,573.2 L531.3,570.8 L532.8,568.5 L534.9,566.2 L537.6,564.4 L540.8,563.2 L544.2,563.0 L547.6,563.7 L550.5,565.3 L551.2,563.9 L552.1,562.6 L553.2,561.3 L554.6,560.1 L556.2,559.1 L558.0,558.4 L560.0,558.1 L562.0,558.2 L563.9,558.8 L565.6,559.6 L567.1,560.7 L568.3,562.0 L568.9,560.7 L569.7,559.5 L570.7,558.3 L572.0,557.3 L573.5,556.5 L575.2,556.0 L577.0,555.9 L578.8,556.2 L580.4,556.9 L581.8,557.9 L583.0,559.0 L583.8,560.2 L585.1,558.7 L586.8,557.3 L588.9,556.3 L591.2,555.9 L593.5,556.1 L595.7,556.9 L597.5,558.1 L599.0,559.6 L600.1,561.2 L600.9,562.8 L601.4,564.4 L601.7,566.0 L603.8,567.0 L605.6,568.3 L607.0,569.9 L608.1,571.5 L608.9,573.2 L609.4,574.8 L609.8,576.4 L610.0,578.0 L610.0,579.6 L609.9,581.1 L609.6,582.7 L609.1,584.4 L610.4,586.9 L611.3,589.4 L611.8,591.8 L612.0,594.2 L612.0,596.6 L611.6,599.0 L610.9,601.5 L609.8,604.0 L608.3,606.5 L606.1,608.8 L603.2,610.7 L599.8,611.8 L599.7,613.6 L599.4,615.4 L598.9,617.2 L598.1,619.1 L597.0,621.0 L595.6,622.8 L593.7,624.4 L591.3,625.6 L588.7,626.3 L586.0,626.2 L583.4,625.4 L581.2,624.1 L580.5,626.3 L579.5,628.5 L578.0,630.7 L576.2,632.8 L573.7,634.6 L570.9,635.8 L567.7,636.3 L564.5,635.9 L561.5,634.7 L559.1,632.9 L557.2,630.9 L555.7,628.7 L553.8,629.9 L551.6,630.8 L549.2,631.4 L546.8,631.5 L544.4,631.1 L542.1,630.4 L540.0,629.4 L538.1,628.0 L536.5,626.5 L535.2,624.9 L534.1,623.3 L533.2,621.6 L530.6,621.5 L528.2,620.6 L526.3,619.1 L524.9,617.4 L523.9,615.5 L523.3,613.8 L523.0,612.0 L523.0,610.3 L523.1,608.5 L523.6,606.8 L524.3,604.9 L525.5,603.1 L523.6,601.5 L522.4,599.6 L521.6,597.7 L521.1,595.9 L520.9,594.1 L521.0,592.3 L521.3,590.4 L521.9,588.6 L522.9,586.7 L524.4,584.9 L526.5,583.4 L529.1,582.6 Z M565.8,561.4 A9.0,9.0 0 0 1 581.5,563.9 A11.0,11.0 0 0 1 596.7,573.3 A8.5,8.5 0 0 1 604.0,583.9 A9.7,9.7 0 0 1 606.3,599.7 A8.2,8.2 0 0 1 601.5,612.9 A9.4,9.4 0 0 1 591.5,623.0 A9.8,9.8 0 0 1 574.8,629.8 A9.5,9.5 0 0 1 560.0,630.1 A10.3,10.3 0 0 1 543.2,624.1 A7.9,7.9 0 0 1 532.7,614.6 A8.2,8.2 0 0 1 526.9,601.0 A9.0,9.0 0 0 1 528.3,585.6 A10.5,10.5 0 0 1 537.6,572.0 A7.4,7.4 0 0 1 548.8,565.0 A10.6,10.6 0 0 1 565.8,561.4 Z" fill="url(#cloudG2)"/>
<g font-family="Liberation Sans" font-size="15" fill="#fff6f0" text-anchor="middle" letter-spacing="0.8">
  <text x="553.4" y="171">ONLI</text>
  <text x="553.4" y="190">NE</text>
  <text x="553.4" y="208.6">PAK</text>
  <text x="553.4" y="228">DALM</text>
  <text x="553.4" y="247">AN</text>
  <text x="563" y="588">Emai</text>
  <text x="563" y="607.5">l</text>
</g>

<!-- dotted lines over pink box -->
<g stroke="#2a9294" stroke-width="2.6" stroke-dasharray="2.6 3.2" fill="none">
  <line x1="524" y1="250.5" x2="509" y2="269"/>
  <line x1="508.5" y1="250.5" x2="488.5" y2="277"/>
  <line x1="506.5" y1="256" x2="502" y2="277"/>
</g>

</svg>
</body></html>
